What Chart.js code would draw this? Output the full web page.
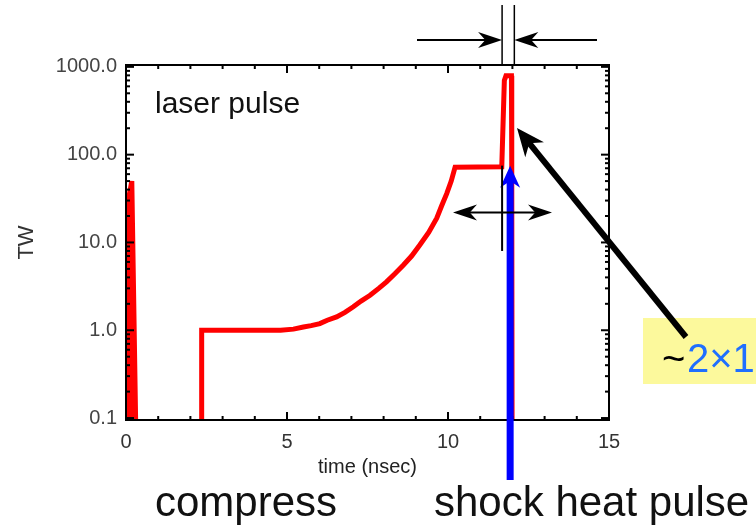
<!DOCTYPE html>
<html>
<head>
<meta charset="utf-8">
<script src="https://cdn.jsdelivr.net/npm/chart.js@4.4.0/dist/chart.umd.min.js"></script>
<style>
  html, body { margin: 0; padding: 0; background: #fff; }
</style>
</head>
<body>
<canvas id="myChart" width="756" height="529"></canvas>
<script>
// first spike at t ~ 0
const spikeTime  = [0, 0.03, 0.18, 0.3];
const spikePower = [0.09, 25, 50, 0.09];

// main pulse: foot, ramp, plateau, ignition spike
const pulseTime  = [2.35, 2.35, 4.8, 5.2, 5.51, 5.75, 6.02, 6.25, 6.54, 6.8, 7.06, 7.3, 7.58, 7.85, 8.09, 8.35, 8.61, 8.87, 9.13, 9.4, 9.65, 9.8, 9.96, 10.1, 10.22, 11.67, 11.75, 11.8, 11.97, 11.98, 11.99];
const pulsePower = [0.09, 1.0, 1.0, 1.03, 1.09, 1.13, 1.19, 1.3, 1.42, 1.6, 1.85, 2.15, 2.5, 3.0, 3.56, 4.4, 5.5, 7.0, 9.4, 13, 18.9, 26, 36, 50, 72, 73, 700, 790, 790, 70, 0.09];

const shockTime = 11.93;
const shockTop = 75;

const xTicks = [0, 5, 10, 15];
const yTicks = [0.1, 1, 10, 100, 1000];

const pts = (xs, ys) => xs.map((x, i) => ({ x: x, y: ys[i] }));

function arrowHead(ctx, x, y, ang, len, half) {
    ctx.beginPath();
    ctx.moveTo(x, y);
    ctx.lineTo(x - len * Math.cos(ang) + half * Math.sin(ang), y - len * Math.sin(ang) - half * Math.cos(ang));
    ctx.lineTo(x - len * Math.cos(ang) * 0.7, y - len * Math.sin(ang) * 0.7);
    ctx.lineTo(x - len * Math.cos(ang) - half * Math.sin(ang), y - len * Math.sin(ang) + half * Math.cos(ang));
    ctx.closePath();
    ctx.fill();
}

function line(ctx, x1, y1, x2, y2, w) {
    ctx.lineWidth = w;
    ctx.beginPath();
    ctx.moveTo(x1, y1);
    ctx.lineTo(x2, y2);
    ctx.stroke();
}

const frame = {
    id: 'frame',
    afterDatasetsDraw(chart) {
        const ctx = chart.ctx;
        const a = chart.chartArea;
        const xs = chart.scales.x, ys = chart.scales.y;
        ctx.save();
        ctx.strokeStyle = '#000';
        ctx.fillStyle = '#000';
        ctx.lineCap = 'butt';

        // box + inward ticks
        ctx.lineWidth = 2;
        ctx.strokeRect(a.left, a.top, a.right - a.left, a.bottom - a.top);
        for (let t = 0; t <= 15; t++) {
            const px = xs.getPixelForValue(t);
            const len = (t % 5 === 0) ? 8 : 4;
            line(ctx, px, a.bottom, px, a.bottom - len, 2);
            line(ctx, px, a.top, px, a.top + len, 2);
        }
        for (let d = -1; d <= 3; d++) {
            for (let m = 1; m <= 9; m++) {
                const v = m * Math.pow(10, d);
                if (v > 1000.0001) continue;
                const py = ys.getPixelForValue(v);
                const len = (m === 1) ? 8 : 4;
                line(ctx, a.left, py, a.left + len, py, 2);
                line(ctx, a.right, py, a.right - len, py, 2);
            }
        }

        // blue shock arrow
        const bx = xs.getPixelForValue(shockTime);
        const by = ys.getPixelForValue(shockTop);
        ctx.fillStyle = '#0000ff';
        ctx.strokeStyle = '#0000ff';
        line(ctx, bx, 480, bx, by + 15, 7);
        arrowHead(ctx, bx, by, -Math.PI / 2, 22, 10);

        // black markers
        ctx.fillStyle = '#000';
        ctx.strokeStyle = '#000';
        const lx = xs.getPixelForValue(11.68);
        const rx = xs.getPixelForValue(12.06);
        line(ctx, lx, ys.getPixelForValue(75), lx, ys.getPixelForValue(8), 2);
        const my = ys.getPixelForValue(22);
        line(ctx, 460, my, 545, my, 2);
        arrowHead(ctx, 453, my, Math.PI, 24, 8);
        arrowHead(ctx, 552, my, 0, 24, 8);

        // pulse width marker above plot
        line(ctx, lx, 5, lx, a.top, 1.5);
        line(ctx, rx, 5, rx, a.top, 1.5);
        line(ctx, 417, 40, lx - 10, 40, 2);
        arrowHead(ctx, lx, 40, 0, 24, 8);
        line(ctx, 597, 40, rx + 10, 40, 2);
        arrowHead(ctx, rx, 40, Math.PI, 24, 8);

        // yellow label box and pointer
        ctx.fillStyle = '#fcf99c';
        ctx.fillRect(643, 318, 113, 66);
        ctx.fillStyle = '#000';
        const tipX = 517, tipY = 128, tailX = 686, tailY = 337;
        const ang = Math.atan2(tipY - tailY, tipX - tailX);
        line(ctx, tailX, tailY, tipX - 14 * Math.cos(ang), tipY - 14 * Math.sin(ang), 6);
        arrowHead(ctx, tipX, tipY, ang, 28, 12);

        ctx.font = '40px "Liberation Sans", Arial, sans-serif';
        ctx.textBaseline = 'alphabetic';
        ctx.textAlign = 'left';
        ctx.fillStyle = '#000';
        ctx.fillText('~', 662, 372);
        ctx.fillStyle = '#1f6fff';
        ctx.fillText('2×1', 687, 372);

        // texts
        ctx.fillStyle = '#111';
        ctx.font = '30px "Liberation Sans", Arial, sans-serif';
        ctx.fillText('laser pulse', 155, 113);
        ctx.font = '42px "Liberation Sans", Arial, sans-serif';
        ctx.fillText('compress', 155, 516);
        ctx.fillText('shock heat pulse', 434, 516);
        ctx.restore();
    }
};

const data = {
    datasets: [{
        label: 'spike',
        data: pts(spikeTime, spikePower),
        borderColor: '#ff0000',
        backgroundColor: '#ff0000',
        borderWidth: 5,
        fill: 'start',
        pointRadius: 0,
        tension: 0
    }, {
        label: 'pulse',
        data: pts(pulseTime, pulsePower),
        borderColor: '#ff0000',
        borderWidth: 5,
        fill: false,
        pointRadius: 0,
        tension: 0
    }]
};

const config = {
    type: 'line',
    data: data,
    plugins: [frame],
    options: {
        responsive: false,
        animation: false,
        devicePixelRatio: 1,
        layout: { padding: { left: 0, top: 65, right: 147, bottom: 0 } },
        plugins: { legend: { display: false }, tooltip: { enabled: false } },
        scales: {
            x: {
                type: 'linear',
                min: 0,
                max: 15,
                afterBuildTicks: s => { s.ticks = xTicks.map(v => ({ value: v })); },
                afterFit: s => { s.height = 109; },
                grid: { display: false, drawTicks: false },
                border: { display: false },
                ticks: {
                    color: '#333',
                    padding: 10,
                    maxRotation: 0,
                    font: { family: '"Liberation Sans", Arial, sans-serif', size: 20 }
                },
                title: {
                    display: true,
                    text: 'time (nsec)',
                    color: '#222',
                    padding: { top: 0, bottom: 50 },
                    font: { family: '"Liberation Sans", Arial, sans-serif', size: 20 }
                }
            },
            y: {
                type: 'logarithmic',
                min: 0.095,
                max: 1050,
                afterBuildTicks: s => { s.ticks = yTicks.map(v => ({ value: v })); },
                afterFit: s => { s.width = 126; },
                grid: { display: false, drawTicks: false },
                border: { display: false },
                ticks: {
                    color: '#444',
                    padding: 9,
                    callback: v => Number(v).toFixed(1),
                    font: { family: '"Liberation Sans", Arial, sans-serif', size: 20 }
                },
                title: {
                    display: true,
                    text: 'TW',
                    color: '#333',
                    padding: { top: 14, bottom: 0 },
                    font: { family: '"Liberation Sans", Arial, sans-serif', size: 22 }
                }
            }
        }
    }
};

var ctx = document.getElementById('myChart');
const myChart = new Chart(ctx, config);
</script>
</body>
</html>
